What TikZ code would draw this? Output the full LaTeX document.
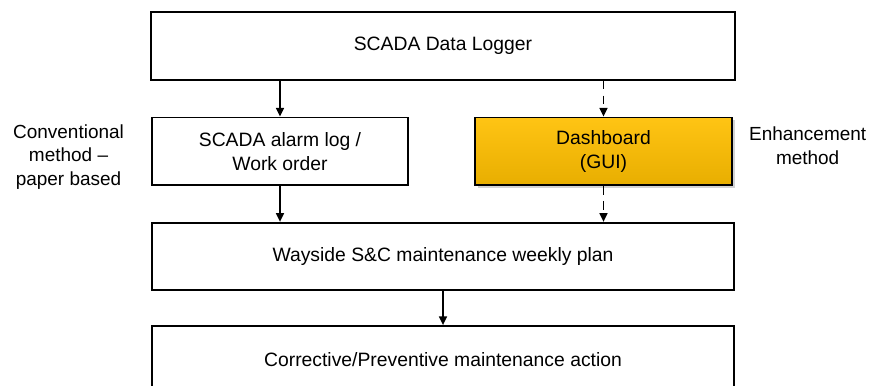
\documentclass[tikz,border=0pt]{standalone}
\usepackage{fontspec}
\setmainfont{Liberation Sans}
\usetikzlibrary{arrows.meta}
\usetikzlibrary{positioning}
\usetikzlibrary{shadows}

\definecolor{goldtop}{HTML}{FFC414}
\definecolor{goldbottom}{HTML}{E8AE00}

\tikzset{
	box/.style={draw,rectangle,line width=1pt,align=center,inner sep=0pt,
		minimum height=1.35cm,font=\fontsize{11}{13.5}\selectfont},
	flow/.style={-{Triangle[length=5pt,width=4.5pt]},line width=1pt},
	optional/.style={dash pattern=on 5pt off 3.5pt},
	sidetext/.style={align=center,font=\fontsize{10.8}{13.3}\selectfont}
}

\begin{document}
\begin{tikzpicture}[node distance=0.72cm and 0.5cm]
		\useasboundingbox (0,0) rectangle (17.44,-7.7);
		\node [box,minimum width=11.68cm] (logger) at (8.86,-0.92) {SCADA Data Logger};
		\node [box,minimum width=5.12cm,below=of logger.south west,anchor=north west,xshift=0.02cm] (alarmlog) {SCADA alarm log /\\Work order};
		\node [box,minimum width=5.14cm,below=of logger.south east,anchor=north east,xshift=-0.06cm,
			top color=goldtop,bottom color=goldbottom,
			drop shadow={shadow xshift=0.05cm,shadow yshift=-0.05cm,opacity=0.35}] (dashboard) {Dashboard\\(GUI)};
		\node [box,minimum width=11.64cm,below=of alarmlog.south west,anchor=north west] (weeklyplan) {Wayside S\&C maintenance weekly plan};
		\node [box,minimum width=11.64cm,below=0.68cm of weeklyplan] (action) {Corrective/Preventive maintenance action};

		\draw [flow] (logger.south -| alarmlog) -- (alarmlog);
		\draw [flow] (alarmlog) -- (weeklyplan.north -| alarmlog);
		\draw [flow,optional] (logger.south -| dashboard) -- (dashboard);
		\draw [flow,optional] (dashboard) -- (weeklyplan.north -| dashboard);
		\draw [flow] (weeklyplan) -- (action);

		\node [sidetext,left=0.42cm of alarmlog,yshift=-0.11cm] (conventional) {Conventional\\method --\\paper based};
		\node [sidetext,right=0.2cm of dashboard,yshift=0.11cm] (enhancement) {Enhancement\\method};
	\end{tikzpicture}
\end{document}
